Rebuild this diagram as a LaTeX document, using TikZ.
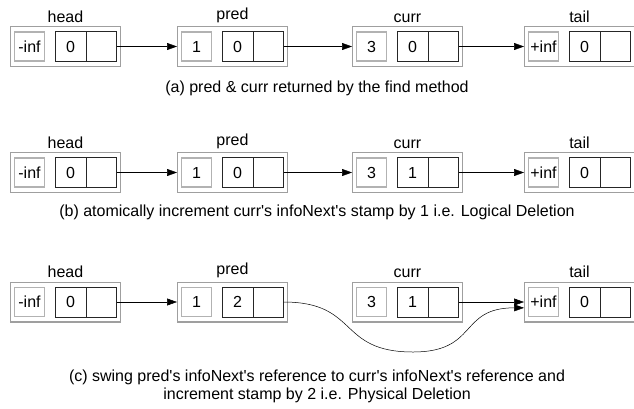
\documentclass[tikz,border=0pt]{standalone}
\usepackage{fontspec}
\setmainfont{Liberation Sans}[Ligatures=TeXOff]
\usetikzlibrary{arrows.meta}

\begin{document}
\begin{tikzpicture} [
    x = 1pt, y = -1pt,
    every node/.style = {font = \fontsize{16}{18}\selectfont},
    rec/.style = {draw = gray!75, line width = 1.3pt, minimum width = 109.7pt, minimum height = 39.7pt, inner sep = 0pt, label distance = -1.5pt},
    keycell/.style = {draw = gray!60, line width = 1.2pt, minimum width = 29.3pt, minimum height = 29pt, inner sep = 0pt},
    cell/.style = {draw = black!85, line width = 0.5pt, minimum width = 30.5pt, minimum height = 30pt, inner sep = 0pt},
    ptr/.style = {-{Triangle[length = 10pt, width = 7pt]}, line width = 0.5pt}
]
\useasboundingbox (0,0) rectangle (634,408);

% row (a)
\node (headA) at (65.5, 46.5) [rec, label = above:head] {};
\node (headA-key) at (29.5, 46.5) [keycell] {-inf};
\node (headA-st) at (70.5, 46.5) [cell] {0};
\node (headA-ref) at (101, 46.5) [cell] {};
\node (predA) at (232.5, 46.5) [rec, label = above:pred] {};
\node (predA-key) at (196.5, 46.5) [keycell] {1};
\node (predA-st) at (237.5, 46.5) [cell] {0};
\node (predA-ref) at (268, 46.5) [cell] {};
\node (currA) at (407.5, 46.5) [rec, label = above:curr] {};
\node (currA-key) at (371.5, 46.5) [keycell] {3};
\node (currA-st) at (412.5, 46.5) [cell] {0};
\node (currA-ref) at (443, 46.5) [cell] {};
\node (tailA) at (579.5, 46.5) [rec, label = above:tail] {};
\node (tailA-key) at (543.5, 46.5) [keycell] {+inf};
\node (tailA-st) at (584.5, 46.5) [cell] {0};
\node (tailA-ref) at (615, 46.5) [cell] {};
\draw [ptr] (headA-ref.east) -- (predA.west);
\draw [ptr] (predA-ref.east) -- (currA.west);
\draw [ptr] (currA-ref.east) -- (tailA.west);
\node (capA) at (317, 88) {(a) pred \& curr returned by the find method};

% row (b)
\node (headB) at (65.5, 172.5) [rec, label = above:head] {};
\node (headB-key) at (29.5, 172.5) [keycell] {-inf};
\node (headB-st) at (70.5, 172.5) [cell] {0};
\node (headB-ref) at (101, 172.5) [cell] {};
\node (predB) at (232.5, 172.5) [rec, label = above:pred] {};
\node (predB-key) at (196.5, 172.5) [keycell] {1};
\node (predB-st) at (237.5, 172.5) [cell] {0};
\node (predB-ref) at (268, 172.5) [cell] {};
\node (currB) at (407.5, 172.5) [rec, label = above:curr] {};
\node (currB-key) at (371.5, 172.5) [keycell] {3};
\node (currB-st) at (412.5, 172.5) [cell] {1};
\node (currB-ref) at (443, 172.5) [cell] {};
\node (tailB) at (579.5, 172.5) [rec, label = above:tail] {};
\node (tailB-key) at (543.5, 172.5) [keycell] {+inf};
\node (tailB-st) at (584.5, 172.5) [cell] {0};
\node (tailB-ref) at (615, 172.5) [cell] {};
\draw [ptr] (headB-ref.east) -- (predB.west);
\draw [ptr] (predB-ref.east) -- (currB.west);
\draw [ptr] (currB-ref.east) -- (tailB.west);
\node (capB) at (317, 212) {(b) atomically increment curr's infoNext's stamp by 1 i.e. Logical Deletion};

% row (c)
\node (headC) at (65.5, 302) [rec, label = above:head] {};
\node (headC-key) at (29.5, 302) [keycell] {-inf};
\node (headC-st) at (70.5, 302) [cell] {0};
\node (headC-ref) at (101, 302) [cell] {};
\node (predC) at (232.5, 302) [rec, label = above:pred] {};
\node (predC-key) at (196.5, 302) [keycell] {1};
\node (predC-st) at (237.5, 302) [cell] {2};
\node (predC-ref) at (268, 302) [cell] {};
\node (currC) at (407.5, 302) [rec, label = above:curr] {};
\node (currC-key) at (371.5, 302) [keycell] {3};
\node (currC-st) at (412.5, 302) [cell] {1};
\node (currC-ref) at (443, 302) [cell] {};
\node (tailC) at (579.5, 302) [rec, label = above:tail] {};
\node (tailC-key) at (543.5, 302) [keycell] {+inf};
\node (tailC-st) at (584.5, 302) [cell] {0};
\node (tailC-ref) at (615, 302) [cell] {};
\draw [ptr] (headC-ref.east) -- (predC.west);
\draw [ptr] (currC-ref.east) -- (tailC.west);
\coordinate (dip) at (413, 352);
\draw [ptr] (predC-ref.east) to [out = 0, in = 180, looseness = 1.4] (dip)
    to [out = 0, in = 180, looseness = 1.4] (tailC.186);
\node (capC) at (317, 386) [align = center] {(c) swing pred's infoNext's reference to curr's infoNext's reference and\\increment stamp by 2 i.e. Physical Deletion};

\end{tikzpicture}
\end{document}
